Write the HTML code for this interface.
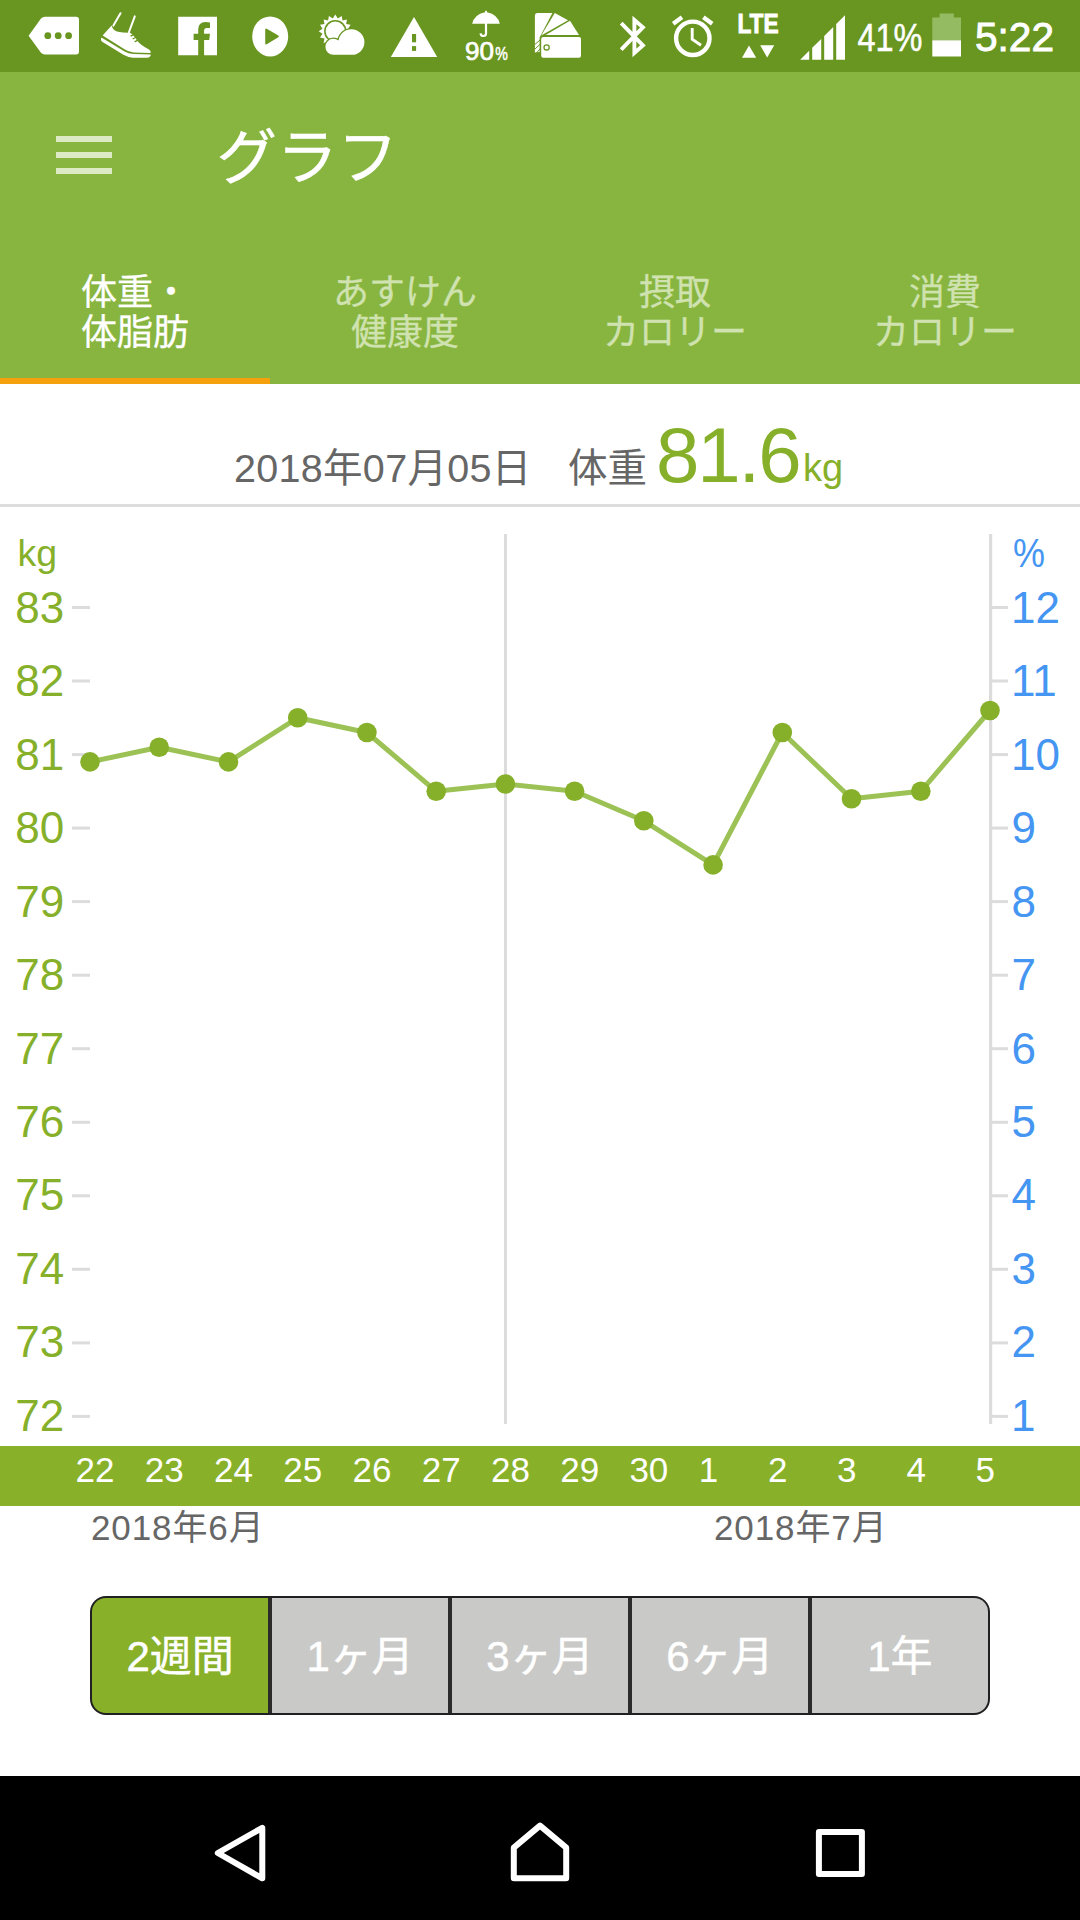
<!DOCTYPE html>
<html lang="ja"><head><meta charset="utf-8"><title>グラフ</title>
<style>
*{margin:0;padding:0;box-sizing:border-box}
html,body{width:1080px;height:1920px;overflow:hidden;background:#fff}
body{position:relative;font-family:"Liberation Sans","Noto Sans CJK JP",sans-serif;color:#666}
.abs{position:absolute}
#status{position:absolute;left:0;top:0;width:1080px;height:72px;background:#699621}
#toolbar{position:absolute;left:0;top:72px;width:1080px;height:312px;background:#88b540}
#title{position:absolute;left:216.5px;top:115.8px;-webkit-text-stroke:0.5px #fff;font-size:60.5px;line-height:84px;color:#fff;white-space:nowrap}
.hb{position:absolute;left:56px;width:56px;height:6px;background:#dcebc6}
.tab{position:absolute;top:272.5px;-webkit-text-stroke:0.3px currentColor;width:270px;height:84px;text-align:center;font-size:36px;line-height:40.7px;color:#cfe2af;white-space:nowrap}
.tab.sel{color:#fff}
#ind{position:absolute;left:0;top:378px;width:270px;height:6px;background:#f5a10e}
#hdr{position:absolute;left:0;top:384px;width:1080px;height:123px;border-bottom:3px solid #dedede}
#hdr span{position:absolute;white-space:nowrap}
.chart{position:absolute;left:0;top:500px}
.yl{font-size:44px;fill:#86b02a;font-family:"Liberation Sans",sans-serif}
.yr{font-size:44px;fill:#4595f2;font-family:"Liberation Sans",sans-serif}
.u{font-size:37.5px}
#band{position:absolute;left:0;top:1445.7px;width:1080px;height:60.2px;background:#88b129;color:#fff;font-size:35px;line-height:47px}
#band span{position:absolute;top:0;white-space:nowrap}
.mon{position:absolute;top:1505px;font-size:35px;line-height:46.6px;letter-spacing:0.9px;color:#666;white-space:nowrap}
#seg{position:absolute;left:90px;top:1596px;width:900px;height:119.4px;border:2px solid #202022;border-radius:16px;overflow:hidden;background:#2b2b2b;display:flex}
#seg div{flex:1 1 0;background:#c9c9c7;color:#fff;font-size:42px;line-height:118.6px;-webkit-text-stroke:0.45px #fff;text-align:center;margin-right:3.5px;white-space:nowrap}
#seg div:last-child{margin-right:0}
#seg div.on{background:#88b129}
#nav{position:absolute;left:0;top:1776px;width:1080px;height:144px;background:#000}
</style></head><body>
<div id="status"><svg id="sb" width="1080" height="72" viewBox="0 0 1080 72">
<g fill="#fff">
<!-- tag with dots -->
<path d="M28.6 35.7 L41 18.6 Q42.6 16.8 45 16.8 L76 16.8 Q79 16.8 79 19.8 L79 51.6 Q79 54.6 76 54.6 L45 54.6 Q42.6 54.6 41 52.8 Z"/>
<g fill="#699621"><circle cx="47.8" cy="35.7" r="3.4"/><circle cx="58.2" cy="35.7" r="3.4"/><circle cx="68.6" cy="35.7" r="3.4"/></g>
<!-- shoe -->
<g stroke="#fff" stroke-width="2" stroke-linecap="round" fill="none"><path d="M120.5 13.2 L113.4 25.6"/><path d="M134.8 16.4 L128.8 32.5"/></g>
<path d="M111.6 25.4 Q113 30.8 118 31.8 Q124 32.8 129.6 32.6 Q133.5 34.5 137 40.6 Q141 45.8 149 49.4 Q151.2 50.6 150.6 53 L133.5 52.6 Q128.5 51.8 124.5 49.2 L102.6 35.4 Z"/>
<path d="M101.4 37.4 L124.2 51.2 Q128.5 53.7 133.5 54.1 L150.8 54.5 Q150.8 57.5 147 57.8 L133 57.7 Q128 57.3 123.4 54.7 L102.2 41.8 Q100.2 40.2 101.4 37.4 Z"/>
<g stroke="#699621" stroke-width="1.4" fill="none"><path d="M130.6 36.2 L134.4 34.2"/><path d="M132.6 39 L136.4 37"/><path d="M134.6 41.8 L138.2 39.8"/></g>
<!-- facebook -->
<path fill-rule="evenodd" d="M178.2 16.7 H217 V55.2 H204.1 V40 H209.2 L210 33.8 H204.1 V30.6 Q204.1 28 206.8 28 H210 V22.4 Q208 22.1 205.6 22.1 Q198.2 22.1 198.2 29.6 V33.8 H193.6 V40 H198.2 V55.2 H178.2 Z"/>
<!-- play -->
<ellipse cx="270.2" cy="36.4" rx="18" ry="20"/>
<path fill="#699621" stroke="#699621" stroke-width="2" stroke-linejoin="round" d="M266.2 29.6 L266.2 43.4 L277.8 36.4 Z"/>
<!-- sun + cloud -->
<path d="M335.3 14.6 L337.8 18.4 L341.7 15.9 L342.5 20.4 L347.0 19.5 L346.1 24.0 L350.6 24.8 L348.1 28.7 L351.9 31.2 L348.1 33.7 L350.6 37.6 L346.1 38.4 L347.0 42.9 L342.5 42.0 L341.7 46.5 L337.8 44.0 L335.3 47.8 L332.8 44.0 L328.9 46.5 L328.1 42.0 L323.6 42.9 L324.5 38.4 L320.0 37.6 L322.5 33.7 L318.7 31.2 L322.5 28.7 L320.0 24.8 L324.5 24.0 L323.6 19.5 L328.1 20.4 L328.9 15.9 L332.8 18.4 Z"/>
<circle cx="335.3" cy="31.2" r="11.2" fill="#699621"/>
<circle cx="335.3" cy="31.2" r="9.6"/>
<path id="cl" d="M333.4 54.8 A8 8 0 0 1 333.4 38.8 A8 8 0 0 1 338.5 40.6 A13 13 0 0 1 351.4 29.3 A13 13 0 0 1 364.4 42.3 A12.5 12.5 0 0 1 351.9 54.8 Z" stroke="#699621" stroke-width="2.6" paint-order="stroke"/>
<!-- warning -->
<path d="M414 17 L437.2 57 L390.8 57 Z"/>
<rect x="412" y="34" width="4.1" height="8.3" fill="#699621"/><rect x="412" y="46.1" width="4.1" height="4.8" fill="#699621"/>
<!-- umbrella -->
<path d="M472.2 23.8 Q474 14.5 485 12.2 L485.2 11 Q486 10.2 486.8 11 L487 12.2 Q498 14.5 499.8 23.8 Z"/>
<path d="M486 23 V33.6 Q486 36 483.4 36 Q480.8 36 480.6 33.4" fill="none" stroke="#fff" stroke-width="2.2"/>
<!-- cards -->
<path d="M537.6 13.1 H552.4 L539.6 37.5 V52 L534.9 52.6 V15.8 Q534.9 13.1 537.6 13.1 Z"/>
<path d="M554.8 13.1 L568 20.2 L541.2 35.4 Z"/>
<path d="M570 20.7 L579 35 L545.6 35 Z"/>
<path d="M541.4 39 L534.6 44.6 M541.4 43 L534.6 49.4 M541.4 47.4 L536.4 53" stroke="#699621" stroke-width="1" fill="none"/>
<rect x="541.2" y="37" width="39.8" height="20.8" rx="2"/>
<circle cx="546.6" cy="47.4" r="2.6" fill="none" stroke="#699621" stroke-width="1.3"/>
<!-- bluetooth -->
<path d="M621.2 23.2 L642.9 45.5 L634.4 52.9 L634.4 20 L642.9 27.4 L621.2 49.7" fill="none" stroke="#fff" stroke-width="3.9" stroke-linejoin="miter"/>
<!-- alarm -->
<circle cx="692.8" cy="38.3" r="16.7" fill="none" stroke="#fff" stroke-width="4.4"/>
<path d="M692.2 28 V39.2 L701 45.2" fill="none" stroke="#fff" stroke-width="2.9"/>
<path d="M673.2 23.8 L682 17.2 M703.4 17.2 L712.2 23.8" fill="none" stroke="#fff" stroke-width="4.2"/>
<!-- LTE arrows -->
<path d="M749 45.4 L756.2 57.8 L742 57.8 Z M760.2 45.2 L774.2 45.2 L767.2 57.6 Z"/>
<!-- signal -->
<path d="M800.2 59.7 L809.2 50.8 V59.7 Z M812.2 47.8 L821.2 38.9 V59.7 H812.2 Z M824.2 35.9 L833.2 27 V59.7 H824.2 Z M836.2 24 L845 15.3 V59.7 H836.2 Z"/>
<!-- battery -->
<path d="M932.3 17.6 H939.6 V13.4 H953.8 V17.6 H961 V40.3 H932.3 Z" fill="#95bb62"/>
<rect x="932.3" y="40.3" width="28.7" height="16.2"/>
</g>
<g fill="#fff" font-family="'Liberation Sans',sans-serif">
<text x="464.9" y="60.2" font-size="26" stroke="#fff" stroke-width="0.7" textLength="29" lengthAdjust="spacingAndGlyphs">90</text><text x="495.2" y="60.2" font-size="19" stroke="#fff" stroke-width="0.5" textLength="12.6" lengthAdjust="spacingAndGlyphs">%</text>
<text x="737.4" y="32.8" font-size="27.6" font-weight="bold" stroke="#fff" stroke-width="0.9" textLength="41.2" lengthAdjust="spacingAndGlyphs">LTE</text>
<text x="857.4" y="50.5" font-size="38" stroke="#fff" stroke-width="0.5" textLength="65" lengthAdjust="spacingAndGlyphs">41%</text>
<text x="975" y="51" font-size="41" stroke="#fff" stroke-width="0.9" textLength="79" lengthAdjust="spacingAndGlyphs">5:22</text>
</g>
</svg>
</div>
<div id="toolbar"></div>
<div class="hb" style="top:136px"></div><div class="hb" style="top:152px"></div><div class="hb" style="top:168px"></div>
<div id="title">グラフ</div>
<div class="tab sel" style="left:0">体重・<br>体脂肪</div>
<div class="tab" style="left:270px">あすけん<br>健康度</div>
<div class="tab" style="left:540px">摂取<br>カロリー</div>
<div class="tab" style="left:810px">消費<br>カロリー</div>
<div id="ind"></div>
<div id="hdr">
<span style="left:234px;top:58.4px;font-size:39.5px;line-height:52px;letter-spacing:0.3px">2018年07月05日</span>
<span style="left:568px;top:58.4px;font-size:39.5px;line-height:52px">体重</span>
<span style="left:656px;top:26px;font-size:78px;line-height:90px;color:#86b02a;letter-spacing:-2.1px">81.6</span>
<span style="left:803px;top:58px;font-size:38px;line-height:52px;color:#86b02a">kg</span>
</div>
<svg class="chart" width="1080" height="1000" viewBox="0 500 1080 1000">
<rect x="504" y="534" width="3" height="890" fill="#dcdcdc"/>
<rect x="989" y="534" width="3.2" height="890" fill="#dcdcdc"/>
<rect x="72" y="606.0" width="18" height="3" fill="#dcdcdc"/>
<rect x="990" y="606.0" width="18" height="3" fill="#dcdcdc"/>
<text x="15.3" y="622.9" class="yl">83</text>
<text x="1011.1" y="622.9" class="yr">12</text>
<rect x="72" y="679.5" width="18" height="3" fill="#dcdcdc"/>
<rect x="990" y="679.5" width="18" height="3" fill="#dcdcdc"/>
<text x="15.3" y="696.3" class="yl">82</text>
<text x="1011.1" y="696.3" class="yr">11</text>
<rect x="72" y="753.1" width="18" height="3" fill="#dcdcdc"/>
<rect x="990" y="753.1" width="18" height="3" fill="#dcdcdc"/>
<text x="15.3" y="769.8" class="yl">81</text>
<text x="1011.1" y="769.8" class="yr">10</text>
<rect x="72" y="826.6" width="18" height="3" fill="#dcdcdc"/>
<rect x="990" y="826.6" width="18" height="3" fill="#dcdcdc"/>
<text x="15.3" y="843.2" class="yl">80</text>
<text x="1011.4" y="843.2" class="yr">9</text>
<rect x="72" y="900.1" width="18" height="3" fill="#dcdcdc"/>
<rect x="990" y="900.1" width="18" height="3" fill="#dcdcdc"/>
<text x="15.3" y="916.7" class="yl">79</text>
<text x="1011.4" y="916.7" class="yr">8</text>
<rect x="72" y="973.7" width="18" height="3" fill="#dcdcdc"/>
<rect x="990" y="973.7" width="18" height="3" fill="#dcdcdc"/>
<text x="15.3" y="990.1" class="yl">78</text>
<text x="1011.4" y="990.1" class="yr">7</text>
<rect x="72" y="1047.2" width="18" height="3" fill="#dcdcdc"/>
<rect x="990" y="1047.2" width="18" height="3" fill="#dcdcdc"/>
<text x="15.3" y="1063.5" class="yl">77</text>
<text x="1011.4" y="1063.5" class="yr">6</text>
<rect x="72" y="1120.8" width="18" height="3" fill="#dcdcdc"/>
<rect x="990" y="1120.8" width="18" height="3" fill="#dcdcdc"/>
<text x="15.3" y="1137.0" class="yl">76</text>
<text x="1011.4" y="1137.0" class="yr">5</text>
<rect x="72" y="1194.3" width="18" height="3" fill="#dcdcdc"/>
<rect x="990" y="1194.3" width="18" height="3" fill="#dcdcdc"/>
<text x="15.3" y="1210.4" class="yl">75</text>
<text x="1011.4" y="1210.4" class="yr">4</text>
<rect x="72" y="1267.8" width="18" height="3" fill="#dcdcdc"/>
<rect x="990" y="1267.8" width="18" height="3" fill="#dcdcdc"/>
<text x="15.3" y="1283.9" class="yl">74</text>
<text x="1011.4" y="1283.9" class="yr">3</text>
<rect x="72" y="1341.4" width="18" height="3" fill="#dcdcdc"/>
<rect x="990" y="1341.4" width="18" height="3" fill="#dcdcdc"/>
<text x="15.3" y="1357.3" class="yl">73</text>
<text x="1011.4" y="1357.3" class="yr">2</text>
<rect x="72" y="1414.9" width="18" height="3" fill="#dcdcdc"/>
<rect x="990" y="1414.9" width="18" height="3" fill="#dcdcdc"/>
<text x="15.3" y="1430.7" class="yl">72</text>
<text x="1011.1" y="1430.7" class="yr">1</text>
<text x="17.5" y="566" class="yl u">kg</text>
<text x="1013" y="566.6" class="yr" font-size="40" textLength="32" lengthAdjust="spacingAndGlyphs" style="font-size:40px">%</text>
<polyline points="90.0,761.9 159.2,747.2 228.5,761.9 297.7,717.8 366.9,732.5 436.2,791.3 505.4,784.0 574.6,791.3 643.8,820.8 713.1,864.9 782.3,732.5 851.5,798.7 920.8,791.3 990.0,710.5" fill="none" stroke="#9cc256" stroke-width="5" stroke-linejoin="round"/>
<circle cx="90.0" cy="761.9" r="9.8" fill="#86b02a"/>
<circle cx="159.2" cy="747.2" r="9.8" fill="#86b02a"/>
<circle cx="228.5" cy="761.9" r="9.8" fill="#86b02a"/>
<circle cx="297.7" cy="717.8" r="9.8" fill="#86b02a"/>
<circle cx="366.9" cy="732.5" r="9.8" fill="#86b02a"/>
<circle cx="436.2" cy="791.3" r="9.8" fill="#86b02a"/>
<circle cx="505.4" cy="784.0" r="9.8" fill="#86b02a"/>
<circle cx="574.6" cy="791.3" r="9.8" fill="#86b02a"/>
<circle cx="643.8" cy="820.8" r="9.8" fill="#86b02a"/>
<circle cx="713.1" cy="864.9" r="9.8" fill="#86b02a"/>
<circle cx="782.3" cy="732.5" r="9.8" fill="#86b02a"/>
<circle cx="851.5" cy="798.7" r="9.8" fill="#86b02a"/>
<circle cx="920.8" cy="791.3" r="9.8" fill="#86b02a"/>
<circle cx="990.0" cy="710.5" r="9.8" fill="#86b02a"/>
</svg>
<div id="band">
<span style="left:75.6px">22</span>
<span style="left:144.8px">23</span>
<span style="left:214.1px">24</span>
<span style="left:283.3px">25</span>
<span style="left:352.5px">26</span>
<span style="left:421.8px">27</span>
<span style="left:491.0px">28</span>
<span style="left:560.2px">29</span>
<span style="left:629.4px">30</span>
<span style="left:698.7px">1</span>
<span style="left:767.9px">2</span>
<span style="left:837.1px">3</span>
<span style="left:906.4px">4</span>
<span style="left:975.6px">5</span>
</div>
<div class="mon" style="left:91px">2018年6月</div>
<div class="mon" style="left:714px">2018年7月</div>
<div id="seg"><div class="on">2週間</div><div>1ヶ月</div><div>3ヶ月</div><div>6ヶ月</div><div>1年</div></div>
<div id="nav">
<svg width="1080" height="144" viewBox="0 0 1080 144" fill="none" stroke="#fff" stroke-width="6" stroke-linejoin="round">
<path d="M262.3 51.8 L262.3 102.3 L217.8 77 Z"/>
<path d="M513.8 102.3 L513.8 71.6 L540 49.6 L566.2 71.6 L566.2 102.3 Z"/>
<rect x="818.9" y="55.9" width="43" height="42.2"/>
</svg>
</div>
</body></html>
